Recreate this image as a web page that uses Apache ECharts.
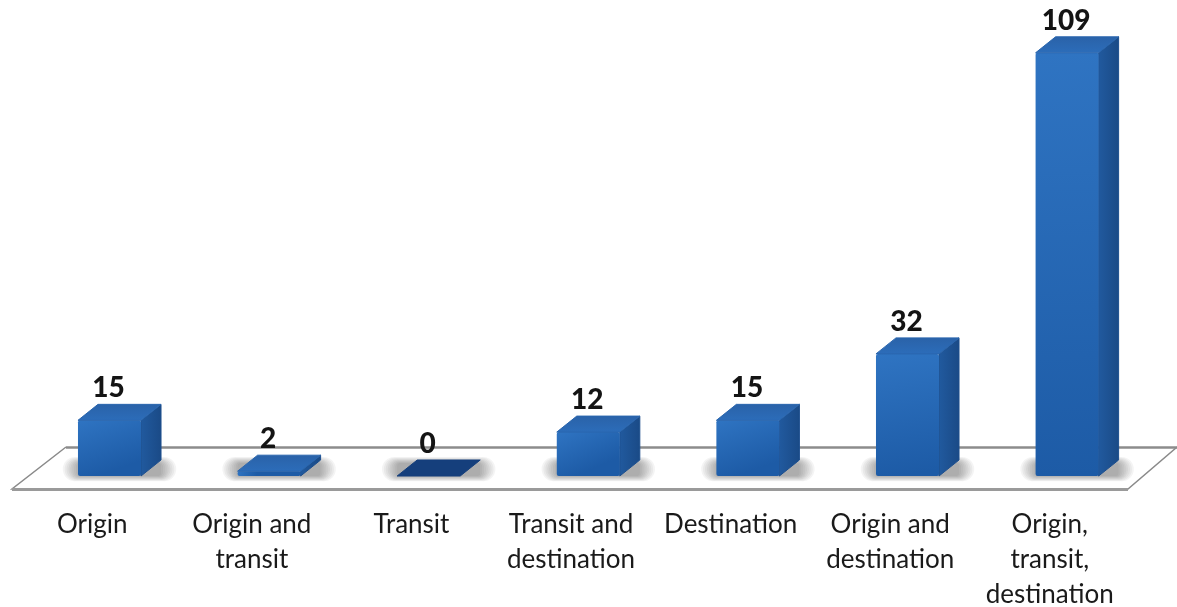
<!DOCTYPE html>
<html><head><meta charset="utf-8">
<style>html,body{margin:0;padding:0;background:#fff}#c{width:1177px;height:607px}</style>
<script src="https://cdn.jsdelivr.net/npm/echarts@6/dist/echarts.min.js"></script>
</head><body><div id="c"></div>
<script>
const categories = ['Origin','Origin and\ntransit','Transit','Transit and\ndestination','Destination','Origin and\ndestination','Origin,\ntransit,\ndestination'];
const counts = [15,2,0,12,15,32,109];

const chart = echarts.init(document.getElementById('c'), null, {renderer:'canvas'});
const FONT = 'Lato';
const DX = 20, DY = 16, BASE = 3, SHIFT = 17.3;

function renderBar(params, api){
  const i = api.value(0), v = api.value(1);
  const p = api.coord([i, v]), p0 = api.coord([i, 0]);
  const w = api.size([1,0])[0] * 0.395;
  const l = p[0] + SHIFT - w/2, r = l + w;
  const bot = p0[1] - BASE, top = Math.min(p[1], bot);
  const lg = (a,b,x2,y2)=>({type:'linear',x:0,y:0,x2:x2,y2:y2,colorStops:[{offset:0,color:a},{offset:1,color:b}]});
  const kids = [];
  // soft contact shadow on the floor, built from stacked translucent layers
  for(let k=0;k<9;k++){
    const g = k*1.9;
    kids.push({type:'rect',z2:1,shape:{x:l-g,y:bot-13-g*0.4,width:w+DX+2*g,height:13+g*0.75,r:3+g*0.7},
      style:{fill:'rgba(70,70,70,0.06)'}});
  }
  if(v>0){
    kids.push({type:'polygon',z2:2,shape:{points:[[r,top],[r+DX,top-DY],[r+DX,bot-DY],[r,bot]]},
      style:{fill:lg('#215a9f','#1a4a86',1,0),stroke:'#1d4f8e',lineWidth:1,lineJoin:'round'}});
    kids.push({type:'rect',z2:3,shape:{x:l,y:top,width:w,height:bot-top,r:2},
      style:{fill:lg('#2f74c2','#1d5ba6',0.3,1)}});
  }
  kids.push({type:'polygon',z2:4,shape:{points:[[l,top],[r,top],[r+DX,top-DY],[l+DX,top-DY]]},
    style:v>0?{fill:lg('#2a62a8','#2c6dba',0,1),stroke:'#2a66ae',lineWidth:1,lineJoin:'round'}
             :{fill:'#153f7c',stroke:'#153f7c',lineWidth:1,lineJoin:'round'}});
  kids.push({type:'text',z2:5,x:l+w/2-1,y:top-DY-16,style:{text:String(counts[i]),font:'900 28px '+FONT,fill:'#141414',align:'center',verticalAlign:'middle'}});
  return {type:'group',children:kids};
}

chart.setOption({
  animation:false,
  backgroundColor:'#fff',
  grid:{left:12.4,width:1117.2,top:9.8,bottom:128,outerBoundsMode:'none'},
  xAxis:{type:'category',data:categories,axisLine:{show:false},axisTick:{show:false},splitLine:{show:false},
    axisLabel:{margin:28,fontFamily:FONT,fontSize:26,lineHeight:35,color:'#1a1a1a',interval:0,hideOverlap:false}},
  yAxis:{type:'value',min:0,max:120,show:false},
  graphic:[
    {type:'polygon',z:-1,silent:true,shape:{points:[[66,447],[1177,447],[1128,489],[12,489]]},style:{fill:'#fff'}},
    {type:'polyline',z:-1,silent:true,shape:{points:[[66,447],[12,489],[1128,489],[1177,447]]},style:{stroke:'#8a8a8a',lineWidth:1.5,fill:null}},
    {type:'line',z:-1,silent:true,shape:{x1:12,y1:489.5,x2:1128,y2:489.5},style:{stroke:'#9a9a9a',lineWidth:3}},
    {type:'line',z:-1,silent:true,shape:{x1:66,y1:447.5,x2:1177,y2:447.5},style:{stroke:'#8c8c8c',lineWidth:2.5}}
  ],
  series:[{type:'custom',clip:false,renderItem:renderBar,encode:{x:0,y:1},
    data:counts.map((v,i)=>[i,v])}]
});
</script></body></html>
